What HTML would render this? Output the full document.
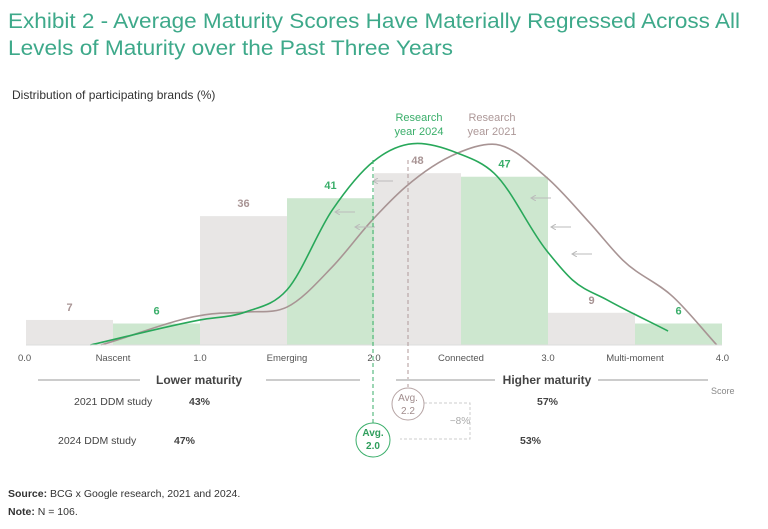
<!DOCTYPE html>
<html><head><meta charset="utf-8"><style>
body{margin:0;background:#fff;}
svg{display:block;font-family:"Liberation Sans",sans-serif;}
</style></head><body>
<svg id="chart" width="768" height="529" viewBox="0 0 768 529">
<defs><marker id="ah" markerWidth="6" markerHeight="6" refX="5" refY="3" orient="auto"><path d="M0 0 L5 3 L0 6" fill="none" stroke="#bbb"/></marker></defs>
<text x="8" y="28" font-size="21" fill="#3ea98a" textLength="732" lengthAdjust="spacingAndGlyphs">Exhibit 2 - Average Maturity Scores Have Materially Regressed Across All</text>
<text x="8" y="55" font-size="21" fill="#3ea98a" textLength="445" lengthAdjust="spacingAndGlyphs">Levels of Maturity over the Past Three Years</text>
<text x="12" y="99" font-size="12" fill="#333">Distribution of participating brands (%)</text>
<g id="bars"></g>
<g id="curves"></g>
<g id="axis"></g>
<g stroke="#bbb" stroke-width="1" fill="none">
<path d="M393 181 h-20" marker-end="url(#ah)"/><path d="M375 227 h-20" marker-end="url(#ah)"/><path d="M355 212 h-20" marker-end="url(#ah)"/>
<path d="M551 198 h-20" marker-end="url(#ah)"/><path d="M571 227 h-20" marker-end="url(#ah)"/><path d="M592 254 h-20" marker-end="url(#ah)"/>
</g>
<line x1="373" y1="160" x2="373" y2="425" stroke="#3aae6a" stroke-dasharray="4,3"/>
<line x1="408" y1="160" x2="408" y2="387" stroke="#b09a9a" stroke-dasharray="4,3"/>
<text x="419" y="121" font-size="11" fill="#3aae6a" text-anchor="middle"><tspan x="419">Research</tspan><tspan x="419" dy="14">year 2024</tspan></text>
<text x="492" y="121" font-size="11" fill="#ad9898" text-anchor="middle"><tspan x="492">Research</tspan><tspan x="492" dy="14">year 2021</tspan></text>
<g stroke="#999" stroke-width="1">
<line x1="38" y1="380" x2="140" y2="380"/><line x1="266" y1="380" x2="360" y2="380"/>
<line x1="396" y1="380" x2="495" y2="380" stroke="#ccc" stroke-width="2"/><line x1="598" y1="380" x2="708" y2="380" stroke="#ccc" stroke-width="2"/>
</g>
<text x="199" y="384" font-size="12" font-weight="bold" fill="#444" text-anchor="middle">Lower maturity</text>
<text x="547" y="384" font-size="12" font-weight="bold" fill="#444" text-anchor="middle">Higher maturity</text>
<text x="711" y="394" font-size="9" fill="#888">Score</text>
<text x="74" y="405" font-size="10.5" fill="#444">2021 DDM study</text>
<text x="189" y="405" font-size="10.5" font-weight="bold" fill="#444">43%</text>
<text x="537" y="405" font-size="10.5" font-weight="bold" fill="#444">57%</text>
<text x="58" y="444" font-size="10.5" fill="#444">2024 DDM study</text>
<text x="174" y="444" font-size="10.5" font-weight="bold" fill="#444">47%</text>
<text x="520" y="444" font-size="10.5" font-weight="bold" fill="#444">53%</text>
<path d="M424 403 H470 V439 H400" stroke="#ccc" stroke-dasharray="3,2" fill="none"/>
<text x="460" y="424" font-size="10" fill="#aaa" text-anchor="middle">−8%</text>
<circle cx="408" cy="404" r="16" fill="#fff" stroke="#b6a4a4"/>
<text x="408" y="401" font-size="10" fill="#a08c8c" text-anchor="middle"><tspan x="408">Avg.</tspan><tspan x="408" dy="13">2.2</tspan></text>
<circle cx="373" cy="440" r="17" fill="#fff" stroke="#3aae6a"/>
<text x="373" y="436" font-size="10" font-weight="bold" fill="#2f9e5c" text-anchor="middle"><tspan x="373">Avg.</tspan><tspan x="373" dy="13">2.0</tspan></text>
<text x="8" y="497" font-size="10.5" fill="#333"><tspan font-weight="bold">Source:</tspan> BCG x Google research, 2021 and 2024.</text>
<text x="8" y="515" font-size="10.5" fill="#333"><tspan font-weight="bold">Note:</tspan> N = 106.</text>
</svg>
<script>
const barStarts = [0, 0.5, 1.0, 1.5, 2.0, 2.5, 3.0, 3.5];
const barValues = [7, 6, 36, 41, 48, 47, 9, 6];
const barSeries = ["2021", "2024", "2021", "2024", "2021", "2024", "2021", "2024"];
const tickValues = [0, 0.5, 1, 1.5, 2, 2.5, 3, 3.5, 4];
const tickLabels = ["0.0", "Nascent", "1.0", "Emerging", "2.0", "Connected", "3.0", "Multi-moment", "4.0"];
const curve2024X = [0.37, 1.0, 1.26, 1.50, 1.76, 2.0, 2.25, 2.48, 2.69, 2.99, 3.14, 3.34, 3.69];
const curve2024Y = [0, 7.0, 9.2, 15.4, 37.7, 51.4, 56.3, 53.6, 48.0, 26.5, 18.2, 12.6, 3.9];
const curve2021X = [0.43, 1.07, 1.27, 1.50, 1.76, 1.99, 2.18, 2.48, 2.68, 2.99, 3.24, 3.43, 3.72, 3.97];
const curve2021Y = [0, 8.7, 9.2, 10.6, 21.8, 34.9, 44.1, 53.6, 56.1, 46.9, 34.1, 23.7, 13.4, 0];

const X0 = 26, XS = 174, Y0 = 345, YS = 3.58;
const xPos = v => X0 + v * XS;
const yPos = v => Y0 - v * YS;
const NS = "http://www.w3.org/2000/svg";
const mk = (t, a) => { const e = document.createElementNS(NS, t); for (const k in a) e.setAttribute(k, a[k]); return e; };

const bars = document.getElementById("bars");
barValues.forEach((v, i) => {
  const g = barSeries[i] === "2024";
  const r = mk("rect", {x: xPos(barStarts[i]), y: yPos(v), width: XS / 2, height: v * YS, fill: g ? "#cde7cf" : "#e8e6e5"});
  
  
  bars.appendChild(r);
  const t = mk("text", {x: xPos(barStarts[i] + 0.25), y: yPos(v) - 9, "font-size": 11, "font-weight": "bold", "text-anchor": "middle", fill: g ? "#3aae6a" : "#a89494"});
  t.textContent = v;
  
  
  bars.appendChild(t);
});

function smooth(xs, ys) {
  const p = xs.map((x, i) => [xPos(x), yPos(ys[i])]);
  const n = p.length;
  const sec = [];
  for (let i = 0; i < n - 1; i++) sec.push((p[i + 1][1] - p[i][1]) / (p[i + 1][0] - p[i][0]));
  const m = p.map((_, i) => {
    if (i === 0) return sec[0];
    if (i === n - 1) return sec[n - 2];
    if (sec[i - 1] * sec[i] <= 0) return 0;
    const h0 = p[i][0] - p[i - 1][0], h1 = p[i + 1][0] - p[i][0];
    return (sec[i - 1] * h1 + sec[i] * h0) / (h0 + h1);
  });
  let d = "M" + p[0][0] + " " + p[0][1];
  for (let i = 0; i < n - 1; i++) {
    const dx = (p[i + 1][0] - p[i][0]) / 3;
    d += " C" + (p[i][0] + dx) + " " + (p[i][1] + m[i] * dx) + " " + (p[i + 1][0] - dx) + " " + (p[i + 1][1] - m[i + 1] * dx) + " " + p[i + 1][0] + " " + p[i + 1][1];
  }
  return d;
}
const curves = document.getElementById("curves");
const c21 = mk("path", {d: smooth(curve2021X, curve2021Y), fill: "none", stroke: "#a89494", "stroke-width": 1.6});


curves.appendChild(c21);
const c24 = mk("path", {d: smooth(curve2024X, curve2024Y), fill: "none", stroke: "#28a85a", "stroke-width": 1.6});


curves.appendChild(c24);

const axis = document.getElementById("axis");
const base = mk("line", {x1: 26, y1: Y0, x2: 722, y2: Y0, stroke: "#ddd"});


axis.appendChild(base);
tickValues.forEach((v, i) => {
  const t = mk("text", {x: xPos(v), y: 361, "font-size": 9.5, fill: "#555", "text-anchor": i === 0 ? "start" : (i === 8 ? "end" : "middle")});
  if (i === 0) t.setAttribute("x", 18);
  if (i === 8) t.setAttribute("x", 729);
  t.textContent = tickLabels[i];
  
  
  axis.appendChild(t);
});
</script>
</body></html>
